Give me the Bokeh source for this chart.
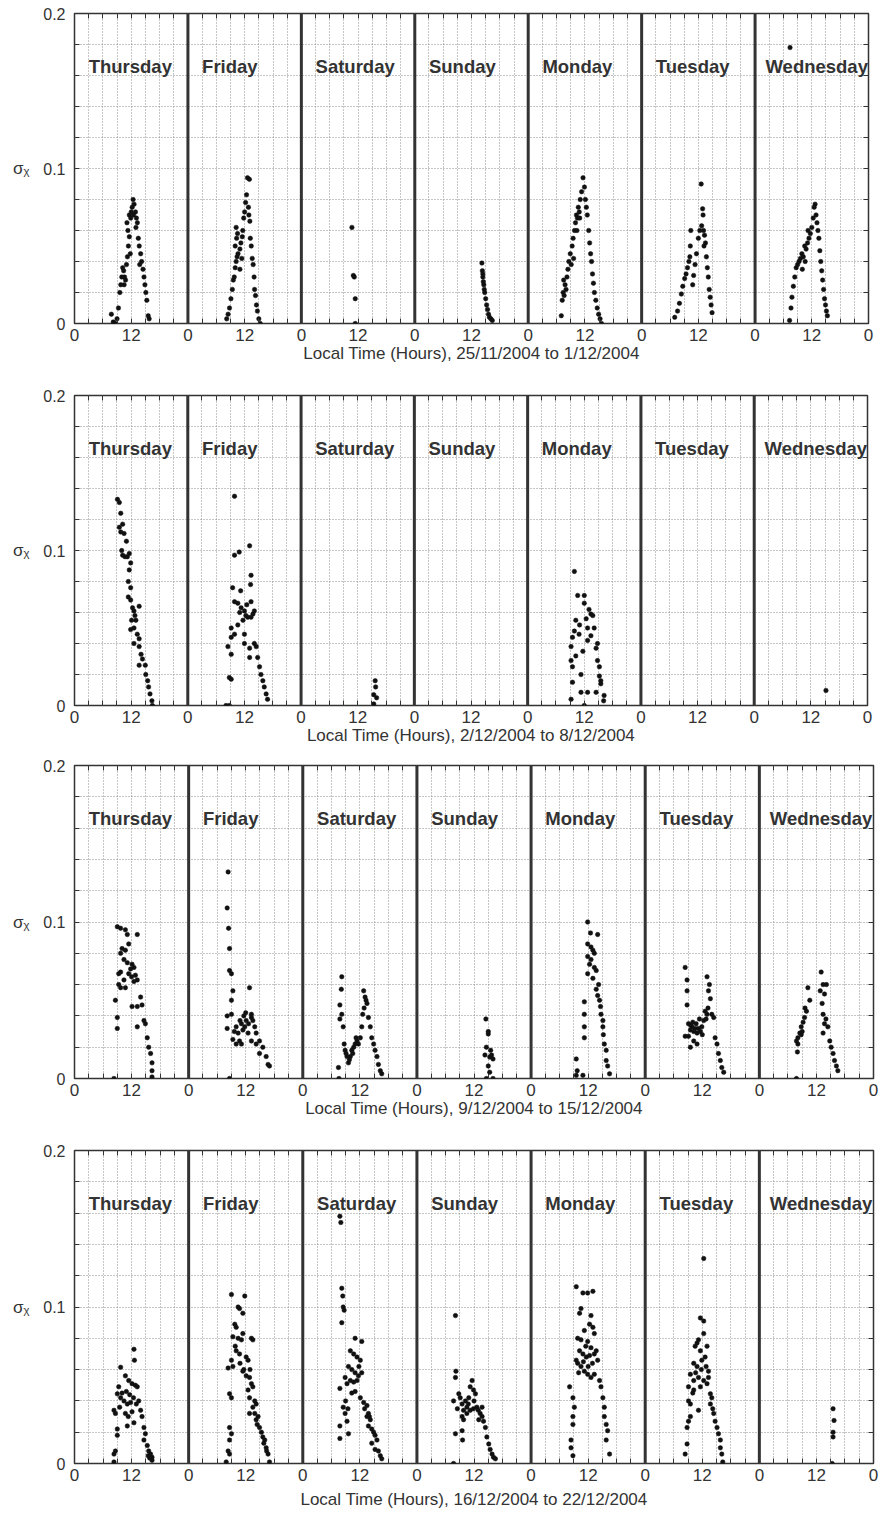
from bokeh.plotting import figure
from bokeh.models import Range1d, FixedTicker, LinearAxis, Span, Label, ColumnDataSource
from bokeh.layouts import column
from bokeh.embed import file_html
from bokeh.resources import INLINE

# ---------------- data ----------------
DAY_NAMES = ["Thursday", "Friday", "Saturday", "Sunday", "Monday", "Tuesday", "Wednesday"]
WEEK_RANGES = ["25/11/2004 to 1/12/2004", "2/12/2004 to 8/12/2004",
               "9/12/2004 to 15/12/2004", "16/12/2004 to 22/12/2004"]
X_TICKS = [0, 3, 6, 9, 12, 15, 18, 21, 24, 27, 30, 33, 36, 39, 42, 45, 48, 51, 54, 57, 60,
           63, 66, 69, 72, 75, 78, 81, 84, 87, 90, 93, 96, 99, 102, 105, 108, 111, 114, 117,
           120, 123, 126, 129, 132, 135, 138, 141, 144, 147, 150, 153, 156, 159, 162, 165, 168]
Y_TICKS = [0, 0.02, 0.04, 0.06, 0.08, 0.1, 0.12, 0.14, 0.16, 0.18, 0.2]
Y_LABELS = {0: "0", 0.1: "0.1", 0.2: "0.2"}

# week 1 : (hour of day, sigma_chi)
w1_thu = [(7.8,0.006),(8.2,0.001),(8.6,0.0),(9.0,0.003),(9.3,0.01),(9.6,0.02),(9.8,0.025),(10.0,0.03),
          (10.2,0.036),(10.4,0.034),(10.6,0.03),(10.8,0.028),(11.0,0.038),(11.2,0.043),(11.4,0.05),
          (11.6,0.056),(11.3,0.06),(11.1,0.065),(11.6,0.07),(11.9,0.068),(12.2,0.075),(12.4,0.08),
          (12.6,0.077),(12.9,0.072),(13.1,0.068),(13.3,0.065),(13.0,0.062),(13.5,0.055),(13.7,0.05),
          (14.0,0.045),(14.2,0.04),(14.5,0.035),(14.7,0.03),(14.9,0.025),(15.1,0.02),(15.3,0.015),
          (15.6,0.005),(15.8,0.003),(12.0,0.072),(11.8,0.045),(12.5,0.07),(13.8,0.038),(10.5,0.025)]
w1_fri = [(8.2,0.003),(8.5,0.006),(8.8,0.01),(9.1,0.016),(9.4,0.022),(9.6,0.028),(9.8,0.03),(10.0,0.036),
          (10.2,0.04),(10.4,0.043),(10.6,0.045),(10.0,0.05),(10.3,0.055),(10.5,0.058),(10.2,0.062),
          (11.0,0.048),(11.2,0.052),(11.5,0.056),(11.6,0.06),(11.8,0.068),(12.0,0.072),(12.2,0.078),
          (12.4,0.083),(12.6,0.094),(13.0,0.093),(12.9,0.07),(13.1,0.066),(12.8,0.075),(13.2,0.055),
          (13.4,0.05),(13.6,0.042),(13.8,0.038),(14.0,0.03),(14.1,0.022),(14.3,0.018),(14.5,0.012),
          (14.7,0.008),(15.0,0.003),(15.3,0.0),(11.0,0.035),(11.4,0.042)]
w1_sat = [(10.7,0.062),(11.0,0.031),(11.2,0.030),(11.4,0.016),(11.4,0.0)]
w1_sun = [(14.2,0.039),(14.3,0.034),(14.4,0.03),(14.5,0.027),(14.6,0.025),(14.8,0.02),(15.0,0.016),
          (15.2,0.012),(15.4,0.009),(15.6,0.006),(15.8,0.004),(16.1,0.003),(16.4,0.002),(14.4,0.032),
          (14.7,0.022)]
w1_mon = [(7.0,0.005),(7.2,0.015),(7.4,0.02),(7.6,0.018),(7.8,0.025),(8.0,0.022),(7.5,0.028),(8.2,0.03),
          (8.4,0.035),(8.6,0.04),(8.9,0.045),(9.1,0.038),(9.3,0.05),(9.5,0.055),(9.8,0.06),(10.0,0.065),
          (10.2,0.07),(10.4,0.068),(10.6,0.075),(10.8,0.072),(11.0,0.08),(11.3,0.085),(11.6,0.094),
          (11.9,0.088),(12.1,0.08),(12.3,0.075),(12.5,0.07),(12.8,0.06),(13.0,0.052),(13.2,0.045),
          (13.4,0.04),(13.6,0.032),(13.8,0.026),(14.0,0.02),(14.3,0.015),(14.6,0.01),(14.9,0.006),
          (15.2,0.003),(15.5,0.0),(10.3,0.06),(10.9,0.068),(9.6,0.042)]
w1_tue = [(7.0,0.004),(7.6,0.008),(8.0,0.013),(8.4,0.019),(8.7,0.024),(9.1,0.029),(9.4,0.032),(9.7,0.036),
          (10.0,0.04),(10.2,0.043),(10.3,0.05),(10.4,0.06),(10.8,0.025),(11.0,0.031),(11.3,0.038),
          (11.6,0.045),(12.0,0.055),(12.3,0.06),(12.6,0.09),(12.9,0.074),(13.0,0.07),(13.1,0.06),
          (13.3,0.057),(13.5,0.052),(13.7,0.043),(13.9,0.036),(14.1,0.03),(14.3,0.022),(14.5,0.017),
          (14.7,0.012),(14.9,0.007),(12.7,0.063),(13.2,0.05)]
w1_wed = [(7.4,0.178),(7.3,0.002),(7.6,0.01),(7.8,0.017),(8.1,0.024),(8.4,0.03),(8.7,0.036),(9.0,0.038),
          (9.3,0.04),(9.6,0.042),(9.9,0.045),(10.2,0.043),(10.5,0.05),(10.8,0.048),(11.1,0.052),
          (11.4,0.055),(11.7,0.058),(12.0,0.062),(12.3,0.068),(12.5,0.075),(12.7,0.077),(12.9,0.07),
          (13.1,0.065),(13.3,0.06),(13.5,0.055),(13.7,0.047),(13.9,0.04),(14.1,0.034),(14.3,0.028),
          (14.5,0.022),(14.7,0.016),(14.9,0.012),(15.1,0.008),(15.3,0.005),(10.0,0.035),(10.6,0.04),
          (11.2,0.06)]

# week 2
w2_thu = [(9.1,0.133),(9.5,0.131),(9.8,0.124),(10.2,0.117),(9.5,0.115),(9.8,0.112),(10.5,0.111),
          (11.0,0.106),(10.2,0.097),(10.7,0.096),(11.2,0.096),(11.6,0.098),(11.9,0.092),(11.6,0.0875),
          (11.4,0.08),(11.9,0.076),(11.4,0.07),(11.9,0.068),(12.3,0.063),(12.6,0.061),(13.7,0.064),
          (12.1,0.055),(12.6,0.05),(11.9,0.049),(13.3,0.046),(13.7,0.043),(12.6,0.04),(13.7,0.038),
          (14.1,0.033),(14.4,0.03),(13.7,0.026),(15.0,0.026),(15.1,0.02),(15.5,0.016),(15.7,0.012),
          (16.0,0.0075),(16.4,0.003),(16.5,0.0),(10.0,0.1),(12.8,0.058),(13.0,0.055)]
w2_fri = [(9.9,0.135),(9.9,0.097),(10.9,0.099),(13.1,0.103),(13.4,0.084),(13.3,0.078),(9.5,0.076),
          (11.2,0.074),(9.9,0.067),(10.6,0.066),(11.3,0.063),(12.0,0.061),(13.4,0.067),(13.8,0.059),
          (14.1,0.061),(13.4,0.057),(12.7,0.057),(11.7,0.055),(10.6,0.052),(9.2,0.05),(9.9,0.046),
          (12.0,0.046),(9.2,0.044),(8.5,0.038),(9.2,0.033),(13.1,0.037),(14.1,0.04),(14.5,0.038),
          (14.8,0.031),(15.2,0.025),(15.5,0.02),(15.9,0.016),(16.2,0.012),(16.6,0.0075),(16.9,0.004),
          (8.8,0.018),(9.2,0.017),(8.1,0.0),(8.8,0.0),(13.1,0.031),(12.0,0.04),(12.5,0.065),
          (12.3,0.058),(11.0,0.06)]
w2_sat = [(15.7,0.016),(15.8,0.012),(15.4,0.007),(16.0,0.005),(15.4,0.001)]
w2_sun = []
w2_mon = [(9.9,0.0865),(10.6,0.071),(12.0,0.071),(12.0,0.066),(13.4,0.059),(13.8,0.058),(10.2,0.055),
          (12.4,0.056),(9.9,0.048),(9.5,0.044),(10.9,0.046),(12.7,0.05),(14.1,0.05),(13.4,0.045),
          (14.8,0.04),(14.5,0.037),(9.2,0.038),(10.2,0.032),(11.7,0.035),(12.7,0.042),(9.2,0.029),
          (9.5,0.025),(14.8,0.029),(15.2,0.025),(11.3,0.02),(15.2,0.019),(15.5,0.016),(15.5,0.014),
          (9.5,0.015),(11.3,0.0085),(12.7,0.0085),(14.5,0.0085),(16.2,0.0065),(16.1,0.003),
          (9.2,0.004),(12.0,0.0),(13.0,0.062),(11.0,0.052)]
w2_tue = []
w2_wed = [(15.2,0.0097)]

# week 3
w3_thu = [(8.3,0.0),(9.0,0.097),(9.7,0.096),(10.7,0.095),(11.1,0.092),(13.2,0.092),(10.0,0.083),
          (10.7,0.082),(9.7,0.08),(11.4,0.086),(10.4,0.076),(11.1,0.074),(12.1,0.073),(12.5,0.071),
          (9.7,0.068),(9.3,0.067),(11.4,0.067),(12.8,0.066),(13.2,0.063),(10.4,0.063),(9.7,0.058),
          (10.7,0.058),(9.3,0.06),(8.6,0.05),(9.0,0.039),(9.0,0.032),(12.1,0.046),(13.2,0.046),
          (13.9,0.052),(14.2,0.047),(14.6,0.037),(14.9,0.035),(13.2,0.033),(15.3,0.026),(15.6,0.02),
          (16.0,0.016),(16.3,0.01),(16.3,0.005),(16.3,0.001),(12.0,0.065),(11.8,0.07),(12.5,0.062)]
w3_fri = [(8.3,0.132),(8.1,0.109),(8.4,0.096),(8.6,0.083),(8.6,0.069),(9.0,0.067),(9.3,0.056),
          (9.0,0.05),(9.0,0.041),(8.1,0.04),(8.1,0.032),(12.8,0.058),(8.6,0.0),(10.0,0.033),
          (10.4,0.029),(10.7,0.024),(11.4,0.031),(12.1,0.037),(13.2,0.039),(13.2,0.041),(13.5,0.037),
          (13.9,0.033),(14.2,0.029),(14.9,0.024),(15.6,0.02),(16.3,0.014),(16.7,0.009),(17.0,0.008),
          (11.1,0.035),(11.8,0.033),(12.5,0.029),(10.0,0.022),(11.1,0.022),(13.2,0.024),(14.2,0.022),
          (14.9,0.016),(9.6,0.03),(12.0,0.042),(11.6,0.04),(12.6,0.035),(10.8,0.037),(9.3,0.025)]
w3_sat = [(8.2,0.065),(8.1,0.057),(7.8,0.047),(8.2,0.041),(7.8,0.038),(8.5,0.033),(7.5,0.007),
          (7.6,0.0),(8.9,0.018),(9.3,0.014),(9.6,0.01),(10.0,0.014),(10.3,0.018),(10.7,0.02),
          (11.0,0.022),(11.4,0.024),(11.7,0.022),(12.1,0.026),(12.4,0.033),(12.6,0.041),(12.8,0.056),
          (13.1,0.052),(13.5,0.048),(13.8,0.039),(14.2,0.033),(14.5,0.026),(14.9,0.022),(15.2,0.018),
          (15.6,0.014),(15.9,0.009),(16.3,0.005),(16.6,0.003),(9.8,0.012),(10.5,0.016),(11.2,0.026),
          (12.9,0.045),(13.3,0.05),(8.7,0.022),(9.1,0.016)]
w3_sun = [(14.5,0.038),(15.0,0.0285),(15.0,0.03),(14.6,0.02),(14.3,0.015),(15.3,0.0137),(15.7,0.015),
          (16.0,0.0125),(15.0,0.008),(15.3,0.004),(14.6,0.0),(16.0,0.0),(15.5,0.018)]
w3_mon = [(11.9,0.1),(12.5,0.093),(14.0,0.092),(11.9,0.086),(12.6,0.084),(13.0,0.082),(13.3,0.08),
          (11.9,0.078),(12.3,0.073),(13.3,0.071),(13.7,0.069),(11.9,0.067),(13.0,0.064),(13.7,0.057),
          (14.0,0.053),(14.4,0.05),(14.6,0.046),(14.7,0.041),(15.1,0.037),(15.1,0.033),(15.4,0.022),
          (15.8,0.018),(15.8,0.0115),(16.1,0.008),(16.5,0.003),(11.2,0.049),(11.2,0.041),(11.2,0.033),
          (11.2,0.026),(9.5,0.0125),(9.7,0.005),(9.5,0.002),(10.9,0.002),(12.6,0.076),(14.2,0.06),
          (15.2,0.028)]
w3_tue = [(8.4,0.071),(8.8,0.063),(8.8,0.056),(8.8,0.047),(8.4,0.027),(9.1,0.027),(9.5,0.02),
          (9.8,0.033),(10.2,0.03),(10.5,0.032),(10.9,0.029),(11.2,0.032),(11.6,0.03),(11.9,0.033),
          (12.3,0.037),(12.6,0.043),(13.0,0.065),(13.3,0.056),(13.7,0.051),(14.0,0.041),(14.4,0.039),
          (13.0,0.041),(14.7,0.026),(15.1,0.022),(15.4,0.016),(15.8,0.0115),(16.1,0.007),(16.5,0.004),
          (10.9,0.022),(10.2,0.024),(9.5,0.031),(9.1,0.035),(9.6,0.034),(10.0,0.036),(10.7,0.035),
          (11.4,0.038),(12.0,0.028),(13.2,0.045),(13.5,0.06),(12.8,0.038)]
w3_wed = [(7.8,0.0),(8.0,0.017),(8.1,0.022),(8.5,0.029),(8.8,0.033),(9.2,0.036),(9.5,0.039),
          (9.9,0.043),(10.2,0.058),(10.6,0.05),(13.0,0.068),(13.4,0.06),(13.7,0.054),(14.1,0.06),
          (13.4,0.041),(13.7,0.035),(14.4,0.033),(13.4,0.029),(14.8,0.024),(15.1,0.02),(15.5,0.016),
          (15.8,0.0115),(16.2,0.008),(16.5,0.005),(8.1,0.026),(8.8,0.028),(7.8,0.024),(9.0,0.03),
          (9.6,0.045),(12.8,0.056),(13.2,0.048),(14.0,0.038)]

# week 4
w4_thu = [(12.5,0.073),(12.6,0.066),(9.7,0.0615),(10.7,0.056),(11.4,0.053),(12.1,0.051),(12.8,0.05),
          (13.2,0.049),(9.3,0.049),(9.0,0.0445),(9.7,0.042),(10.4,0.04),(11.1,0.038),(11.8,0.039),
          (8.3,0.034),(8.6,0.032),(10.7,0.032),(12.1,0.033),(12.5,0.026),(11.1,0.024),(9.0,0.022),
          (14.2,0.03),(14.6,0.023),(14.9,0.019),(14.6,0.015),(15.3,0.0115),(15.6,0.008),(16.0,0.006),
          (16.3,0.004),(16.3,0.002),(8.6,0.008),(8.3,0.006),(8.3,0.001),(9.0,0.018),(13.9,0.034),
          (13.5,0.04),(10.0,0.045),(10.9,0.046),(11.6,0.044),(12.4,0.042),(13.0,0.038),(9.5,0.036),
          (11.3,0.03),(15.8,0.0035),(15.5,0.005)]
w4_fri = [(9.0,0.108),(11.8,0.107),(10.4,0.1),(10.7,0.099),(11.4,0.096),(9.7,0.089),(10.0,0.087),
          (9.3,0.081),(10.4,0.08),(11.1,0.079),(11.4,0.083),(13.2,0.08),(13.5,0.079),(9.0,0.066),
          (9.3,0.062),(8.3,0.061),(10.0,0.072),(10.7,0.07),(12.1,0.068),(12.5,0.066),(11.4,0.059),
          (12.1,0.056),(12.8,0.055),(13.2,0.051),(13.5,0.049),(12.5,0.047),(12.8,0.042),(13.9,0.04),
          (14.2,0.038),(8.6,0.0445),(9.0,0.042),(8.6,0.023),(9.0,0.019),(8.6,0.015),(8.3,0.008),
          (8.6,0.006),(7.9,0.001),(13.9,0.032),(14.6,0.03),(14.2,0.028),(14.9,0.023),(15.3,0.02),
          (15.6,0.017),(16.0,0.015),(16.3,0.01),(16.7,0.006),(17.0,0.001),(12.8,0.032),(13.5,0.036),
          (9.8,0.075),(10.8,0.064),(11.6,0.06),(12.9,0.06),(14.4,0.025),(15.8,0.013),(16.4,0.008)]
w4_sat = [(7.8,0.158),(8.0,0.154),(8.2,0.112),(8.4,0.107),(8.5,0.1),(8.7,0.098),(8.2,0.09),(11.0,0.08),
          (12.4,0.078),(10.0,0.072),(10.7,0.07),(11.4,0.068),(12.1,0.066),(9.6,0.062),(10.3,0.06),
          (11.0,0.058),(11.7,0.056),(12.4,0.058),(8.9,0.055),(9.3,0.051),(10.0,0.053),(10.7,0.052),
          (11.4,0.053),(7.8,0.048),(10.3,0.045),(11.0,0.046),(12.1,0.042),(12.8,0.039),(13.5,0.037),
          (8.5,0.036),(8.9,0.032),(9.3,0.027),(7.8,0.024),(9.6,0.019),(7.8,0.016),(13.5,0.03),
          (14.2,0.028),(13.8,0.024),(14.5,0.022),(14.9,0.02),(15.2,0.018),(15.6,0.015),(14.5,0.013),
          (15.2,0.009),(15.9,0.008),(16.3,0.005),(16.6,0.003),(13.8,0.032),(9.0,0.04),(9.5,0.035),
          (11.8,0.062),(13.0,0.035),(14.0,0.03)]
w4_sun = [(8.1,0.0945),(8.2,0.059),(8.1,0.055),(7.7,0.04),(8.1,0.019),(7.7,0.0),(8.8,0.0445),
          (9.1,0.042),(9.5,0.038),(9.8,0.034),(9.5,0.03),(9.5,0.021),(9.6,0.015),(10.2,0.04),
          (10.9,0.042),(11.2,0.049),(11.6,0.053),(11.9,0.047),(12.3,0.0445),(10.5,0.036),(11.2,0.034),
          (11.9,0.035),(12.6,0.036),(12.9,0.034),(13.3,0.032),(13.7,0.03),(14.0,0.027),(14.4,0.023),
          (14.7,0.017),(15.1,0.0125),(15.4,0.009),(15.8,0.006),(16.1,0.004),(16.5,0.003),(13.7,0.036),
          (9.8,0.028),(10.5,0.032),(8.5,0.035),(10.8,0.038),(12.0,0.04),(13.0,0.028)]
w4_mon = [(9.5,0.113),(10.9,0.109),(11.9,0.109),(13.0,0.11),(10.5,0.099),(12.6,0.0945),(10.2,0.096),
          (12.3,0.089),(13.0,0.087),(11.2,0.085),(13.3,0.083),(9.8,0.08),(10.5,0.079),(11.9,0.078),
          (12.6,0.074),(13.7,0.072),(10.2,0.072),(10.9,0.07),(11.6,0.068),(12.3,0.069),(13.3,0.07),
          (9.5,0.066),(9.8,0.064),(10.5,0.062),(11.2,0.059),(11.9,0.057),(12.6,0.055),(13.3,0.057),
          (14.0,0.066),(14.4,0.053),(14.7,0.049),(15.1,0.042),(15.4,0.036),(15.4,0.03),(15.8,0.025),
          (16.1,0.021),(15.8,0.015),(16.5,0.006),(8.1,0.049),(8.8,0.042),(9.1,0.036),(8.8,0.03),
          (8.8,0.025),(8.4,0.015),(8.4,0.01),(8.8,0.005),(11.0,0.065),(12.0,0.062),(10.0,0.058),
          (11.5,0.075),(12.9,0.064)]
w4_tue = [(12.3,0.131),(11.6,0.093),(12.3,0.091),(12.3,0.083),(11.2,0.079),(10.5,0.075),(10.9,0.077),
          (11.6,0.072),(13.0,0.075),(10.2,0.064),(10.9,0.062),(11.9,0.066),(12.6,0.068),(9.5,0.057),
          (10.2,0.053),(11.2,0.055),(12.3,0.053),(13.3,0.059),(13.3,0.055),(9.1,0.049),(10.2,0.047),
          (11.6,0.049),(13.0,0.051),(9.1,0.04),(9.5,0.038),(13.7,0.0445),(14.0,0.042),(9.5,0.03),
          (9.1,0.027),(14.4,0.032),(14.7,0.027),(15.1,0.023),(8.8,0.023),(8.8,0.0125),(8.4,0.006),
          (15.4,0.019),(15.8,0.015),(15.8,0.01),(16.1,0.006),(16.3,0.001),(13.7,0.038),(11.2,0.034),
          (10.0,0.045),(10.6,0.058),(11.8,0.06),(12.8,0.062),(14.2,0.035)]
w4_wed = [(15.5,0.035),(15.7,0.0275),(15.5,0.02),(15.5,0.017),(15.3,0.0)]

WEEKS = [
    [w1_thu, w1_fri, w1_sat, w1_sun, w1_mon, w1_tue, w1_wed],
    [w2_thu, w2_fri, w2_sat, w2_sun, w2_mon, w2_tue, w2_wed],
    [w3_thu, w3_fri, w3_sat, w3_sun, w3_mon, w3_tue, w3_wed],
    [w4_thu, w4_fri, w4_sat, w4_sun, w4_mon, w4_tue, w4_wed],
]
# offset (hours into each day) at which the day name starts
NAME_OFFSETS = [3, 3, 3, 3, 3, 3, 2.2]

# ---------------- styling / layout ----------------
FONT = "Liberation Sans"
INK = "#333333"
# (frame left, frame width, right border, top border, frame height, bottom border, title standoff)
GEOM = [
    (70, 794, 22, 13, 310, 52, 0),
    (72, 793, 21, 20, 310, 43, 0),
    (74, 799, 13, 17, 313, 47, 0),
    (74, 799, 13, 25, 313, 52, 6),
]


def make_panel(idx):
    left, fw, right, top, fh, bottom, tstand = GEOM[idx]
    p = figure(frame_width=fw, frame_height=fh,
               min_border_left=left, min_border_right=right,
               min_border_top=top, min_border_bottom=bottom,
               x_range=Range1d(0, 168), y_range=Range1d(0, 0.2),
               output_backend="svg", toolbar_location=None,
               background_fill_color="white", border_fill_color="white")
    p.outline_line_color = INK
    p.outline_line_width = 1.5

    # grid
    p.xgrid.ticker = FixedTicker(ticks=X_TICKS)
    p.ygrid.ticker = FixedTicker(ticks=Y_TICKS)
    for g in (p.xgrid, p.ygrid):
        g.grid_line_color = "#8c8c8c"
        g.grid_line_dash = "1 2"
        g.grid_line_width = 1

    # bottom axis
    xa = p.xaxis[0]
    xa.ticker = FixedTicker(ticks=X_TICKS)
    xa.major_label_overrides = {h: ("0" if h % 24 == 0 else ("12" if h % 12 == 0 else ""))
                                for h in X_TICKS}
    xa.axis_line_color = None
    xa.major_tick_in = 5
    xa.major_tick_out = 0
    xa.major_tick_line_color = INK
    xa.minor_tick_line_color = None
    xa.major_label_text_font = FONT
    xa.major_label_text_font_size = "17px"
    xa.major_label_text_color = INK
    xa.major_label_standoff = 5
    xa.axis_label = "Local Time (Hours), " + WEEK_RANGES[idx]
    xa.axis_label_text_font = FONT
    xa.axis_label_text_font_size = "17px"
    xa.axis_label_text_font_style = "normal"
    xa.axis_label_text_color = INK
    xa.axis_label_standoff = tstand

    # left axis
    ya = p.yaxis[0]
    ya.ticker = FixedTicker(ticks=Y_TICKS)
    ya.major_label_overrides = {t: Y_LABELS.get(t, "") for t in Y_TICKS}
    ya.axis_line_color = None
    ya.major_tick_in = 5
    ya.major_tick_out = 0
    ya.major_tick_line_color = INK
    ya.minor_tick_line_color = None
    ya.major_label_text_font = FONT
    ya.major_label_text_font_size = "16px"
    ya.major_label_text_color = INK
    ya.major_label_standoff = 9
    ya.axis_label = "σᵪ"
    ya.axis_label_orientation = "horizontal"
    ya.axis_label_text_font = "Liberation Sans, DejaVu Sans"
    ya.axis_label_text_font_size = "17px"
    ya.axis_label_text_font_style = "normal"
    ya.axis_label_text_color = INK
    ya.axis_label_standoff = 11

    # mirrored tick axes (top / right), no labels
    top_ax = LinearAxis(ticker=FixedTicker(ticks=X_TICKS), axis_line_color=None,
                        major_tick_in=5, major_tick_out=0, major_tick_line_color=INK,
                        minor_tick_line_color=None, major_label_text_font_size="0px",
                        major_label_standoff=0)
    top_ax.major_label_overrides = {h: "" for h in X_TICKS}
    p.add_layout(top_ax, "above")
    right_ax = LinearAxis(ticker=FixedTicker(ticks=Y_TICKS), axis_line_color=None,
                          major_tick_in=5, major_tick_out=0, major_tick_line_color=INK,
                          minor_tick_line_color=None, major_label_text_font_size="0px",
                          major_label_standoff=0)
    right_ax.major_label_overrides = {t: "" for t in Y_TICKS}
    p.add_layout(right_ax, "right")

    # day separators
    for d in range(1, 7):
        p.add_layout(Span(location=24 * d, dimension="height", line_color=INK, line_width=3))

    # day names
    for d, name in enumerate(DAY_NAMES):
        p.add_layout(Label(x=24 * d + NAME_OFFSETS[d], y=0.166, text=name, text_align="left",
                           text_baseline="middle", text_font=FONT, text_font_size="18.5px",
                           text_font_style="bold", text_color=INK))

    # points
    xs, ys = [], []
    for d, pts in enumerate(WEEKS[idx]):
        for h, v in pts:
            xs.append(24 * d + h)
            ys.append(v)
    src = ColumnDataSource(dict(x=xs, y=ys))
    p.scatter("x", "y", source=src, size=4.5, marker="circle",
              fill_color="#111111", line_color="#111111", line_width=0.5)
    return p


panels = [make_panel(i) for i in range(4)]
layout = column(*panels, spacing=0)

open("out.html", "w").write(file_html(layout, INLINE))
